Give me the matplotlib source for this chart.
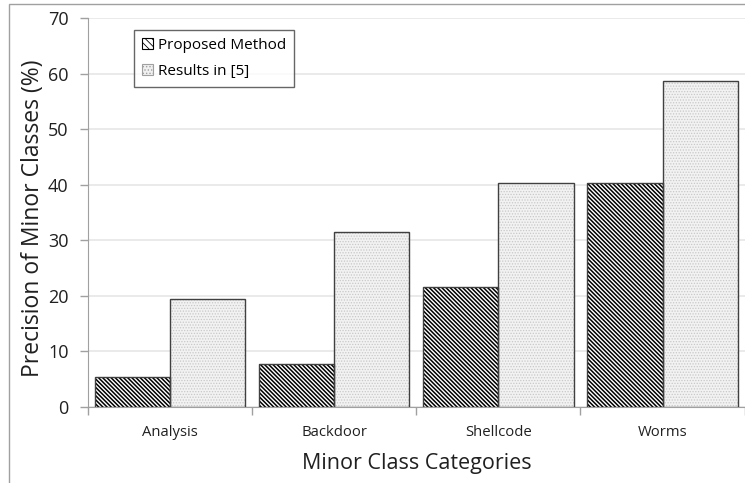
import matplotlib
matplotlib.use("Agg")
import matplotlib.pyplot as plt
import numpy as np
from matplotlib.patches import Rectangle, Patch

categories = ["Analysis", "Backdoor", "Shellcode", "Worms"]
proposed = [5.4, 7.7, 21.6, 40.3]
results5 = [19.4, 31.5, 40.3, 58.7]
series_names = ["Proposed Method", "Results in [5]"]
yticks = [0, 10, 20, 30, 40, 50, 60, 70]

plt.rcParams['font.family'] = ['Open Sans', 'DejaVu Sans']
plt.rcParams['hatch.linewidth'] = 1.1

fig = plt.figure(figsize=(7.45, 4.83), dpi=100)
ax = fig.add_axes([88/745, 1-407/483, 1 - 88/745 - 0.0005, (407-18)/483])

x = np.arange(len(categories))
w = 0.458
edge = '#404040'
# proposed: dense diagonal hatch
ax.bar(x - w/2, proposed, w, color='white', edgecolor='black', hatch='\\' * 8, linewidth=0, zorder=3)
ax.bar(x - w/2, proposed, w, fill=False, edgecolor=edge, linewidth=1.0, zorder=4)
# results: light dotted
plt.rcParams['hatch.linewidth'] = 0.6
ax.bar(x + w/2, results5, w, color='#f2f2f2', edgecolor='#c8c8c8', hatch='......', linewidth=0, zorder=3)
ax.bar(x + w/2, results5, w, fill=False, edgecolor=edge, linewidth=1.0, zorder=4)

ax.set_xlim(-0.5, len(categories) - 0.5)
ax.set_ylim(0, 70)
ax.set_yticks(yticks)
ax.set_yticklabels([str(t) for t in yticks], fontsize=13, color='#202020')
ax.set_xticks(x)
ax.set_xticklabels(categories, fontsize=10.7, color='#202020')
ax.set_xticks(np.arange(len(categories) + 1) - 0.5, minor=True)
ax.tick_params(axis='x', which='major', length=0, pad=13)
ax.tick_params(axis='x', which='minor', length=6, color='#a0a0a0', width=1)
ax.tick_params(axis='y', length=6, color='#a0a0a0', width=1, pad=8)

ax.grid(axis='y', color='#e6e6e6', linewidth=1.2, zorder=0)
ax.set_axisbelow(True)
for s in ['top', 'right']:
    ax.spines[s].set_visible(False)
ax.spines['left'].set_color('#a0a0a0')
ax.spines['bottom'].set_color('#a0a0a0')

ax.set_ylabel("Precision of Minor Classes (%)", fontsize=16.5, color='#202020')
ax.yaxis.set_label_coords((45 - 88) / 657, (407 - 218) / 389)
ax.set_xlabel("Minor Class Categories", fontsize=15.5, color='#202020', labelpad=9)

handles = [Patch(facecolor='white', edgecolor='black', hatch='\\\\\\\\\\', linewidth=0.8),
           Patch(facecolor='#f0f0f0', edgecolor='#a0a0a0', hatch='.....', linewidth=0.8)]
leg = ax.legend(handles, series_names, loc='upper left', bbox_to_anchor=((134-88)/657, 1 - (30-18)/389),
                fontsize=11, frameon=True, fancybox=False, edgecolor='#404040',
                handlelength=0.75, handleheight=0.75, handletextpad=0.3, borderpad=0.5,
                labelspacing=0.75, borderaxespad=0)
leg.get_frame().set_linewidth(1.0)

# figure border
fig.add_artist(Rectangle((9/745, -0.1), 1.2, 1 - 4/483 + 0.1, transform=fig.transFigure,
                         fill=False, edgecolor='#a0a0a0', linewidth=1.0))

fig.savefig("out.png", dpi=100)
